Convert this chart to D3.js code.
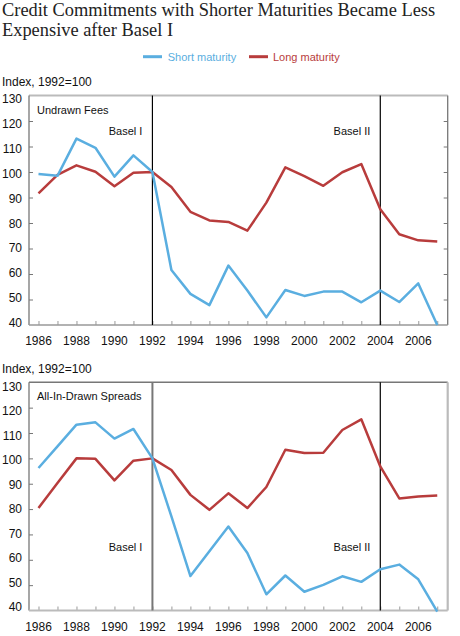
<!DOCTYPE html>
<html><head><meta charset="utf-8">
<script src="https://cdn.jsdelivr.net/npm/d3@7"></script>
<style>body{margin:0;background:#fff}svg{display:block}text{font-family:"Liberation Sans",Arial,sans-serif}</style>
</head><body>
<script>
const years = d3.range(1986, 2008);
const yTicks = [40,50,60,70,80,90,100,110,120,130];
const xLabelYears = [1986,1988,1990,1992,1994,1996,1998,2000,2002,2004,2006];
const seriesNames = ["Short maturity", "Long maturity"];
const seriesColors = ["#5aaee0", "#b83c3c"];
const undrawnShort = [99.2,98.5,113.1,109.5,98.2,106.5,100,61.6,52.2,47.8,63.3,53.5,43,53.7,51.4,53.1,53.1,48.9,53.5,49,56.3,40];
const undrawnLong  = [91.6,98.9,102.6,100.1,94.4,99.7,100,94.1,84.4,81.0,80.4,77.0,88,101.8,98.4,94.6,99.9,103.1,85.4,75.6,73.2,72.7];
const spreadShort  = [96.2,104.7,113.3,114.2,107.8,111.6,100,77.1,53.6,63.4,73.1,62.7,46.4,53.8,47.4,50.1,53.5,51.3,56.3,58.1,52.3,39.6];
const spreadLong   = [80.4,90.3,100.0,99.8,91.3,99.1,100,95.4,85.6,79.7,86.2,80.4,88.7,103.4,102.1,102.2,111.2,115.4,96.8,84.2,85.0,85.4];
const events = [{year:1992,label:"Basel I"},{year:2004,label:"Basel II"}];

const W = 460, H = 636;
const svg = d3.select("body").append("svg").attr("width", W).attr("height", H);

// Title
const title = svg.append("text").style("font-family","'Liberation Serif',serif").attr("font-size",18.4).attr("fill","#222");
title.append("tspan").attr("x",2).attr("y",16).text("Credit Commitments with Shorter Maturities Became Less");
title.append("tspan").attr("x",2).attr("y",36).text("Expensive after Basel I");

// Legend
const lg = svg.append("g").attr("font-size",11);
[[143,167.7],[249,273]].forEach((p,i)=>{
  lg.append("line").attr("x1",p[0]).attr("x2",p[0]+19).attr("y1",56.7).attr("y2",56.7).attr("stroke",seriesColors[i]).attr("stroke-width",3);
  lg.append("text").attr("x",p[1]).attr("y",60.5).attr("fill",seriesColors[i]).text(seriesNames[i]);
});

const x = d3.scaleLinear().domain([1985.5, 2007.55]).range([29, 447.7]);

function panel(top, bottom, indexY, label, shortV, longV, basel, second, lblTop, lblBot) {
  const y = d3.scaleLinear().domain([40,130]).range([bottom, top]);
  const yl = d3.scaleLinear().domain([40,130]).range([lblBot, lblTop]);
  const g = svg.append("g");
  g.append("text").attr("x",2).attr("y",indexY+4.5).attr("font-size",12).attr("fill","#111").text("Index, 1992=100");
  // frame
  g.append("line").attr("x1",29).attr("x2",447.7).attr("y1",top).attr("y2",top).attr("stroke", second?"#777":"#bbb").attr("stroke-width",second?1.5:2.2);
  g.append("line").attr("x1",447.7).attr("x2",447.7).attr("y1",top).attr("y2",bottom).attr("stroke",second?"#bbb":"#777").attr("stroke-width",second?2.2:1.3);
  const la = g.append("g").attr("transform",`translate(29,0)`).call(d3.axisRight(y).tickValues(yTicks.slice(1,-1)).tickSize(4).tickFormat(""));
  la.select(".domain").remove();
  la.selectAll("line").attr("stroke","#777");
  g.append("line").attr("x1",29).attr("x2",29).attr("y1",top).attr("y2",bottom).attr("stroke","#777").attr("stroke-width",1.3);
  if(!second){
    const ra = g.append("g").attr("transform",`translate(447.7,0)`).call(d3.axisLeft(y).tickValues(yTicks.slice(1,-1)).tickSize(4).tickFormat(""));
    ra.select(".domain").remove();
    ra.selectAll("line").attr("stroke","#777");
  }
  g.selectAll(".yl").data(yTicks).join("text").attr("x",22).attr("y",d=>yl(d)+4.3).attr("text-anchor","end").attr("font-size",12).attr("fill","#111").text(d=>d);
  const ba = g.append("g").attr("transform",`translate(0,${bottom})`).call(d3.axisTop(x).tickValues(years).tickSize(4).tickFormat(""));
  ba.select(".domain").remove();
  ba.selectAll("line").attr("stroke","#999");
  g.append("line").attr("x1",29).attr("x2",447.7).attr("y1",bottom).attr("y2",bottom).attr("stroke",second?"#bbb":"#999").attr("stroke-width",second?2:1.5);
  g.selectAll(".xl").data(xLabelYears).join("text").attr("x",d=>x(d)).attr("y",bottom+20).attr("text-anchor","middle").attr("font-size",12).attr("fill","#111").text(d=>d);
  events.forEach((e,i)=>{
    const gray = second && i===0;
    g.append("line").attr("x1",x(e.year)).attr("x2",x(e.year)).attr("y1",top).attr("y2",bottom).attr("stroke",gray?"#777":"#000").attr("stroke-width",gray?2:1.2);
    g.append("text").attr("x",x(e.year)-10).attr("y",basel).attr("text-anchor","end").attr("font-size",11).attr("fill","#111").text(e.label);
  });
  g.append("text").attr("x",37).attr("y",top+18).attr("font-size",11).attr("fill","#111").text(label);
  const line = d3.line().x((d,i)=>x(years[i])).y(d=>y(d));
  g.append("path").datum(longV).attr("d",line).attr("fill","none").attr("stroke",seriesColors[1]).attr("stroke-width",2.5).attr("stroke-linejoin","round");
  g.append("path").datum(shortV).attr("d",line).attr("fill","none").attr("stroke",seriesColors[0]).attr("stroke-width",2.5).attr("stroke-linejoin","round");
}
panel(95.5, 325, 81.7, "Undrawn Fees", undrawnShort, undrawnLong, 134.5, false, 99, 322.7);
panel(382.3, 610.5, 368.3, "All-In-Drawn Spreads", spreadShort, spreadLong, 550.5, true, 386.7, 606.7);
</script>
</body></html>
